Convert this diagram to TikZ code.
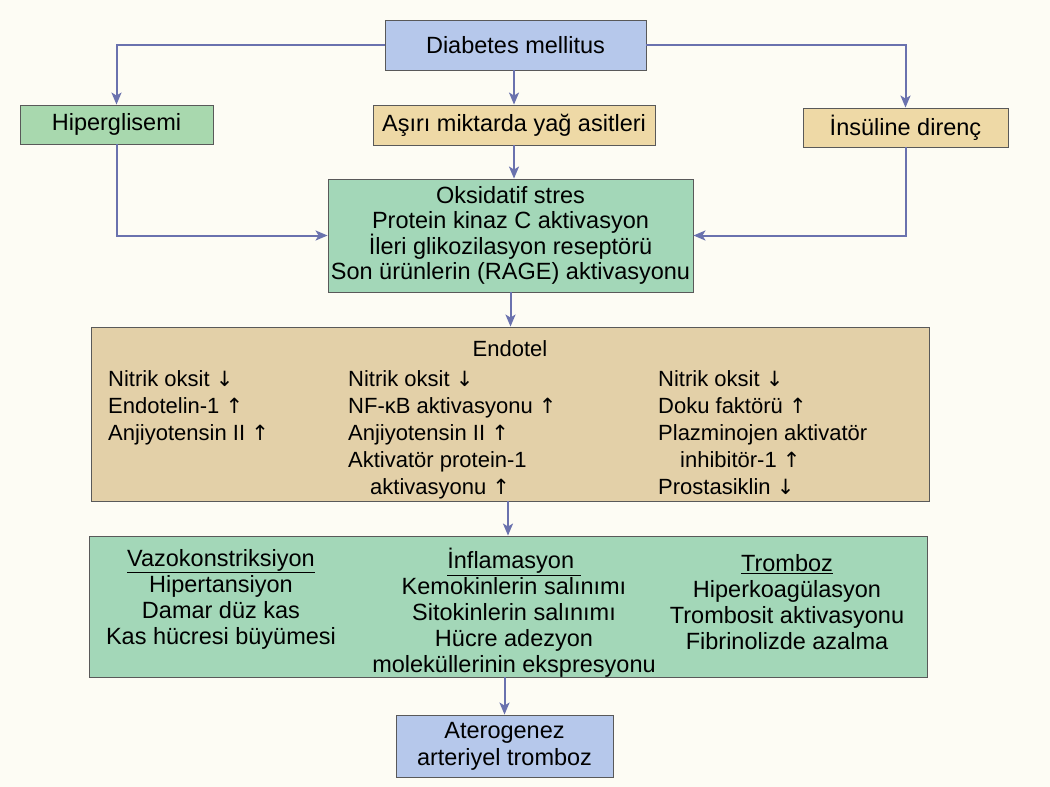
\documentclass[tikz,border=0pt]{standalone}
\usepackage{fontspec}
\setmainfont{Liberation Sans}
\newfontfamily\okfont{DejaVu Sans}
\usetikzlibrary{arrows.meta}
\definecolor{Zemin}{HTML}{FDFCF4}
\definecolor{KutuMavi}{HTML}{B6C8EB}
\definecolor{KutuYesil}{HTML}{A3D7B8}
\definecolor{KutuCimen}{HTML}{A8D8AE}
\definecolor{KutuSari}{HTML}{EED9A6}
\definecolor{KutuBej}{HTML}{E3D0A8}
\definecolor{OkRengi}{HTML}{6A72AE}
\newcommand{\yukari}{{\okfont\fontsize{21}{21}\selectfont ↑}}
\newcommand{\asagi}{{\okfont\fontsize{21}{21}\selectfont ↓}}
\tikzset{
  kutu/.style={draw=black!65, line width=0.9pt, inner sep=0pt, align=center,
    font=\fontsize{23.5}{25}\selectfont},
  mavi/.style={kutu, fill=KutuMavi},
  yesil/.style={kutu, fill=KutuYesil},
  sari/.style={kutu, fill=KutuSari},
  yazi/.style={inner sep=0pt, font=\fontsize{22}{27}\selectfont},
  sonyazi/.style={inner sep=0pt, align=center, anchor=north,
    font=\fontsize{23.5}{26}\selectfont},
  ok/.style={draw=OkRengi, line width=2pt,
    -{Stealth[length=12pt, width=10pt, inset=3pt]}},
}

\begin{document}
\begin{tikzpicture}[x=1pt, y=-1pt]

% ====================================================================
%
%         Zemin
%
% ====================================================================

  \fill[Zemin] (0,0) rectangle (1050,787);
  \useasboundingbox (0,0) rectangle (1050,787);

% ====================================================================
%
%         Kutular
%
% ====================================================================

  % ust sira
  \node[mavi, minimum width=261pt, minimum height=50pt] (diabetes) at (515.5,45)
    {Diabetes mellitus};
  \node[kutu, fill=KutuCimen, minimum width=193pt, minimum height=39pt] (hiper) at (116.5,124.5)
    {Hiperglisemi};
  \node[sari, minimum width=282pt, minimum height=40pt] (asiri) at (514,125)
    {Aşırı miktarda yağ asitleri};
  \node[sari, minimum width=205pt, minimum height=39pt] (insulin) at (905.5,127.5)
    {İnsüline direnç};

  % oksidatif stres
  \node[yesil, minimum width=365pt, minimum height=113pt] (oksidatif) at (510.5,235.5)
    {Oksidatif stres\\Protein kinaz C aktivasyon\\İleri glikozilasyon reseptörü\\Son ürünlerin (RAGE) aktivasyonu};

  % endotel
  \node[kutu, fill=KutuBej, minimum width=838pt, minimum height=174pt] (endotel) at (510,414) {};
  \node[yazi] (endobaslik) at (510,349) {Endotel};
  \node[yazi, align=left, anchor=north west] (endosol) at (108,370)
    {Nitrik oksit \asagi\\Endotelin-1 \yukari\\Anjiyotensin II \yukari};
  \node[yazi, align=left, anchor=north west] (endoorta) at (348,370)
    {Nitrik oksit \asagi\\NF-κB aktivasyonu \yukari\\Anjiyotensin II \yukari\\Aktivatör protein-1\\\hspace*{22pt}aktivasyonu \yukari};
  \node[yazi, align=left, anchor=north west] (endosag) at (658,370)
    {Nitrik oksit \asagi\\Doku faktörü \yukari\\Plazminojen aktivatör\\\hspace*{22pt}inhibitör-1 \yukari\\Prostasiklin \asagi};

  % sonuclar
  \node[yesil, minimum width=838pt, minimum height=141pt] (etki) at (508,606.5) {};
  \node[sonyazi] (vazo) at (221,549)
    {\underline{Vazokonstriksiyon}\\Hipertansiyon\\Damar düz kas\\Kas hücresi büyümesi};
  \node[sonyazi] (inflam) at (514,548)
    {\underline{İnflamasyon }\\Kemokinlerin salınımı\\Sitokinlerin salınımı\\Hücre adezyon\\moleküllerinin ekspresyonu};
  \node[sonyazi] (tromboz) at (787,554)
    {\underline{Tromboz}\\Hiperkoagülasyon\\Trombosit aktivasyonu\\Fibrinolizde azalma};

  % en alt
  \node[mavi, font=\fontsize{23.5}{27}\selectfont, minimum width=217pt, minimum height=62pt] (sonuc) at (504.5,746)
    {Aterogenez\\arteriyel tromboz};

% ====================================================================
%
%         Oklar
%
% ====================================================================

  \draw[ok] (diabetes.west) -| (hiper.north);
  \draw[ok] (diabetes.east) -| (insulin.north);
  \draw[ok] (asiri.north |- diabetes.south) -- (asiri.north);
  \draw[ok] (asiri.south) -- (asiri.south |- oksidatif.north);
  \draw[ok] (hiper.south) |- (oksidatif.west);
  \draw[ok] (insulin.south) |- (oksidatif.east);
  \draw[ok] (oksidatif.south) -- (oksidatif.south |- endotel.north);
  \draw[ok] (etki.north |- endotel.south) -- (etki.north);
  \draw[ok] (sonuc.north |- etki.south) -- (sonuc.north);

\end{tikzpicture}
\end{document}
